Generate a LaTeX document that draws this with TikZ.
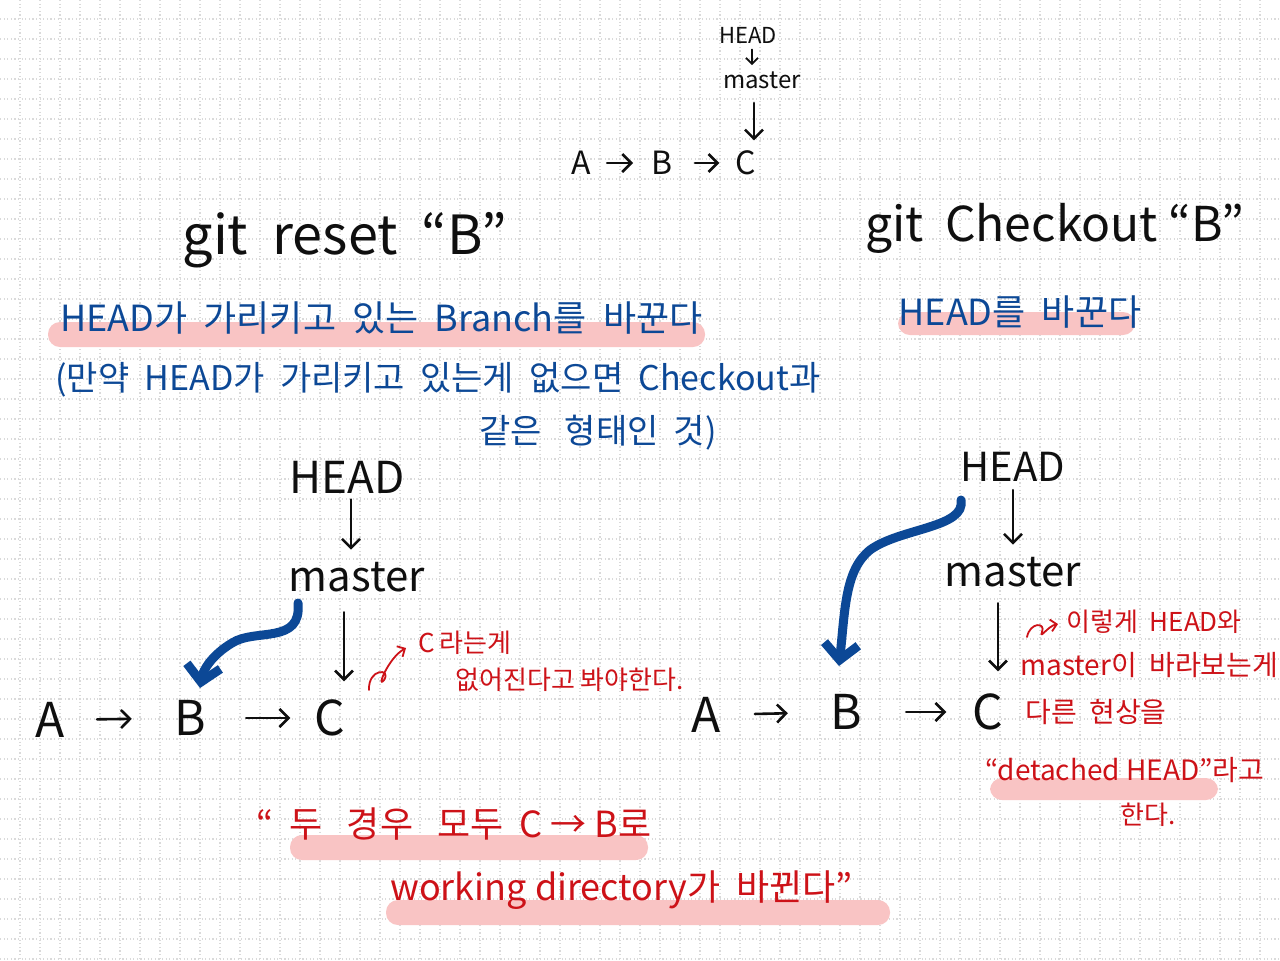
\documentclass[tikz,border=0pt]{standalone}
\usepackage{fontspec}
\setmainfont{Noto Sans CJK KR}
\usetikzlibrary{arrows.meta,calc}
\definecolor{blueink}{RGB}{12,72,150}
\definecolor{redink}{RGB}{205,18,24}
\definecolor{hlpink}{RGB}{249,196,196}
\definecolor{gridc}{RGB}{218,218,218}
\definecolor{inkc}{RGB}{15,15,15}
\begin{document}
\begin{tikzpicture}[x=0.5pt,y=-0.5pt,
  txt/.style={inner sep=0pt, text=inkc},
  fs/.style={font=\fontsize{#1}{#1}\selectfont},
  btxt/.style={inner sep=0pt, text=blueink},
  rtxt/.style={inner sep=0pt, text=redink},
  gridline/.style={gridc, line width=0.6pt, dash pattern=on 0.6pt off 1.2pt},
  hl/.style={fill=hlpink, rounded corners=6pt},
  arr/.style={inkc, -{Straight Barb[length=4.5pt,width=9pt,line width=1.3pt]}, line width=1.3pt, line cap=round, line join=round},
  sarr/.style={inkc, -{Straight Barb[length=3pt,width=6pt,line width=0.9pt]}, line width=0.9pt, line cap=round, line join=round},
  bigblue/.style={blueink, -{Straight Barb[length=8pt,width=17pt,line width=4.5pt]}, line width=4.5pt, line cap=round, line join=round},
  redarr/.style={redink, -{Straight Barb[length=3pt,width=6pt,line width=0.9pt]}, line width=0.9pt, line cap=round, line join=round}
]
\useasboundingbox (0,0) rectangle (1280,960);
\fill[white] (0,0) rectangle (1280,960);
\foreach \x in {20,40,...,1260} \draw[gridline] (\x,0) -- (\x,960);
\foreach \y in {19,39,...,959} \draw[gridline] (0,\y) -- (1280,\y);

% highlights
\fill[hl] (48,322) rectangle (705,347);
\fill[hl] (898,312) rectangle (1135,335);
\fill[hl] (990,778) rectangle (1218,800);
\fill[hl] (290,835) rectangle (648,860);
\fill[hl] (386,900) rectangle (890,925);

% top small diagram
\node[txt,fs=11] (tHEAD) at (748,35) {HEAD};
\node[txt,fs=12] (tmaster) at (762,80) {master};
\node[txt,fs=16] (tA) at (581,163) {A};
\node[txt,fs=16] (tB) at (662,163) {B};
\node[txt,fs=16] (tC) at (746,163) {C};
\draw[sarr] ([xshift=2pt,yshift=-3pt]tHEAD.south) -- ([xshift=-5pt,yshift=3pt]tmaster.north);
\draw[arr] ([xshift=-4pt,yshift=-7pt]tmaster.south) -- ([xshift=4pt,yshift=5pt]tC.north);
\draw[arr,shorten <=8pt,shorten >=9pt] (tA) -- (tB);
\draw[arr,shorten <=11pt,shorten >=8pt] (tB) -- (tC);

% titles
\node[txt,fs=27] (reset) at (345,240) {git\ \ reset\ \ “B”};
\node[txt,fs=24] (checkout) at (1055,228) {git\ \ Checkout “B”};

% blue explanation lines
\node[btxt,fs=18,anchor=west] (b1) at (60,318) {HEAD가\ \ 가리키고\ \ 있는\ \ Branch를\ \ 바꾼다};
\node[btxt,fs=17,anchor=west] (b2) at (55,380) {(만약\ \ HEAD가\ \ 가리키고\ \ 있는게\ \ 없으면\ \ Checkout과};
\node[btxt,fs=17] (b3) at (598,433) {같은\ \ \ 형태인\ \ 것)};
\node[btxt,fs=18] (b4) at (1020,312) {HEAD를\ \ 바꾼다};

% left diagram
\node[txt,fs=22] (lHEAD) at (347,477) {HEAD};
\node[txt,fs=21] (lmaster) at (357,577) {master};
\node[txt,fs=24] (lA) at (50,720) {A};
\node[txt,fs=24] (lB) at (190,718) {B};
\node[txt,fs=24] (lC) at (330,718) {C};
\draw[arr,shorten <=3pt,shorten >=6pt] ([xshift=2pt]lHEAD.south) -- ([xshift=-3pt]lmaster.north);
\draw[arr] ([xshift=-6.5pt,yshift=-10pt]lmaster.south) -- ([xshift=7pt,yshift=9pt]lC.north);
\draw[arr,shorten <=16pt,shorten >=21pt] (lA) -- (lB);
\draw[arr,shorten <=20pt,shorten >=12pt] (lB) -- (lC);
\coordinate (lstart) at (298,603);
\draw[bigblue] (lstart) .. controls (302,645) and (255,628) .. (232,643)
  .. controls (212,655) and (203,670) .. ($(lB.north)+(10,-12)$);

% left red note
\node[rtxt,fs=13,anchor=west] (rn1) at (418,643) {C\,라는게};
\node[rtxt,fs=13,anchor=west] (rn2) at (455,680) {없어진다고\ 봐야한다.};
\coordinate (lsq) at (369,690);
\draw[redarr] (lsq) .. controls (368,668) and (392,668) .. (384,680)
  .. controls (376,690) and (388,658) .. ($(rn1.west)+(-12,5)$);

% right diagram
\node[txt,fs=20] (rHEAD) at (1013,467) {HEAD};
\node[txt,fs=21] (rmaster) at (1013,572) {master};
\node[txt,fs=24] (rA) at (706,715) {A};
\node[txt,fs=24] (rB) at (846,712) {B};
\node[txt,fs=24] (rC) at (988,712) {C};
\draw[arr,shorten <=4pt,shorten >=6pt] (rHEAD.south) -- (rmaster.north);
\draw[arr] ([xshift=-7.5pt,yshift=-8pt]rmaster.south) -- ([xshift=5pt,yshift=11pt]rC.north);
\draw[arr,shorten <=17pt,shorten >=21pt] (rA) -- (rB);
\draw[arr,shorten <=22pt,shorten >=13pt] (rB) -- (rC);
\coordinate (rstart) at (961,500);
\draw[bigblue] (rstart) .. controls (966,528) and (900,528) .. (870,550)
  .. controls (845,570) and (845,610) .. ($(rB.north)+(-7,-28)$);

% right red note
\node[rtxt,fs=13,anchor=west] (rr1) at (1066,622) {이렇게\ \ HEAD와};
\node[rtxt,fs=14,anchor=west] (rr2) at (1020,665) {master이\ \ 바라보는게};
\node[rtxt,fs=14,anchor=west] (rr3) at (1025,712) {다른\ \ 현상을};
\node[rtxt,fs=14,anchor=west] (rr4) at (985,770) {“detached\ HEAD”라고};
\node[rtxt,fs=13,anchor=west] (rr5) at (1120,815) {한다.};
\coordinate (rsq) at (1027,637);
\draw[redarr] (rsq) .. controls (1030,622) and (1046,622) .. (1042,632)
  .. controls (1039,640) and (1048,626) .. ($(rr1.west)+(-8,2)$);

% bottom summary
\node[rtxt,fs=18,anchor=west] (s1) at (256,824) {“\ \ 두\ \ \ 경우\ \ \ 모두\ \ C → B로};
\node[rtxt,fs=18,anchor=west] (s2) at (390,890) {working\ directory가\ \ 바뀐다”};
\end{tikzpicture}
\end{document}
